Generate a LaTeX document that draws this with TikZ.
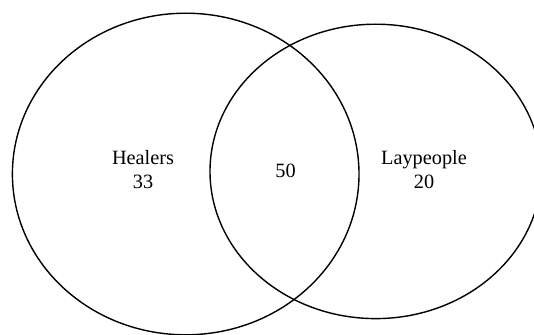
\documentclass[tikz,border=0pt]{standalone}
\usepackage{fontspec}
\setmainfont{Liberation Serif}
\begin{document}
\begin{tikzpicture}[x=1pt,y=-1pt,
  setline/.style={draw=black,line width=1.4pt},
  lbl/.style={font=\fontsize{20.3}{23.5}\selectfont,align=center,inner sep=0pt}]
\useasboundingbox (0,0) rectangle (534,334);
\begin{scope}
\clip (0,0) rectangle (534,334);
\draw[setline] (185.7,174) ellipse [x radius=173.3, y radius=160.8];
\draw[setline] (375.7,171.4) ellipse [x radius=165.7, y radius=147.2];
\end{scope}
\node[lbl] (healers) at (143,169.5) {Healers\\33};
\node[lbl] (both) at (285.5,171) {50};
\node[lbl] (lay) at (424,169.5) {Laypeople\\20};
\end{tikzpicture}
\end{document}
